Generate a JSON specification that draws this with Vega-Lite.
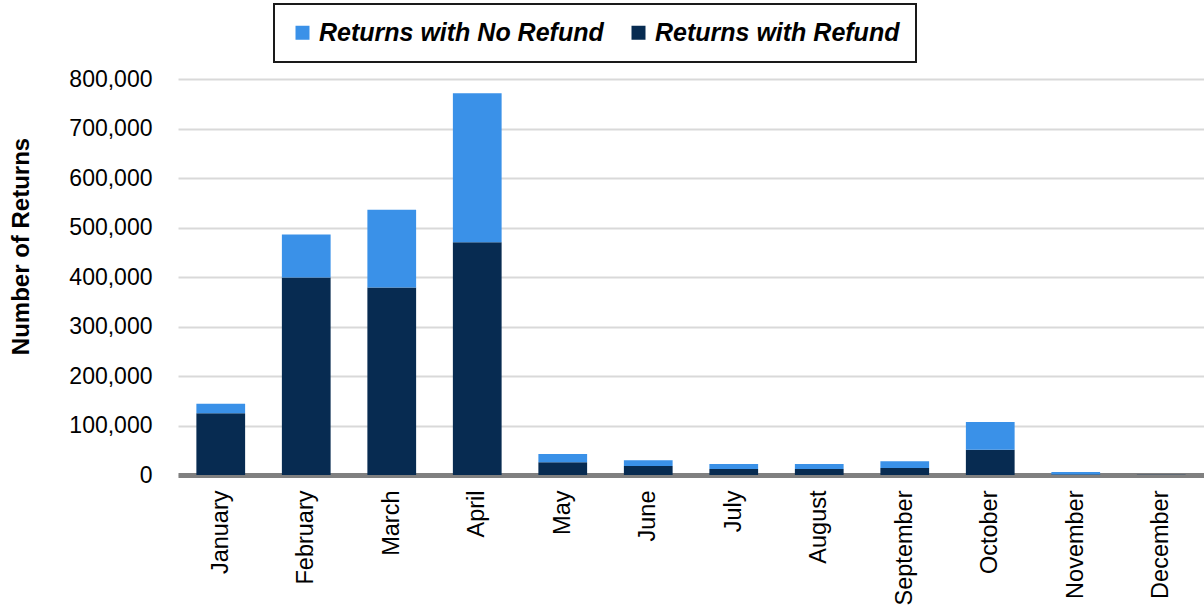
{
  "$schema": "https://vega.github.io/schema/vega-lite/v6.json",
  "autosize": {"type": "none"},
  "width": 1026,
  "height": 396,
  "padding": {"left": 178, "top": 79, "right": 0, "bottom": 136},
  "background": "white",
  "config": {
    "view": {"stroke": null},
    "font": "Liberation Sans"
  },
  "data": {
    "values": [
      {"month": "January", "series": "Returns with Refund", "value": 125000},
      {"month": "January", "series": "Returns with No Refund", "value": 19000},
      {"month": "February", "series": "Returns with Refund", "value": 399000},
      {"month": "February", "series": "Returns with No Refund", "value": 87000},
      {"month": "March", "series": "Returns with Refund", "value": 379000},
      {"month": "March", "series": "Returns with No Refund", "value": 157000},
      {"month": "April", "series": "Returns with Refund", "value": 470000},
      {"month": "April", "series": "Returns with No Refund", "value": 301000},
      {"month": "May", "series": "Returns with Refund", "value": 26000},
      {"month": "May", "series": "Returns with No Refund", "value": 16500},
      {"month": "June", "series": "Returns with Refund", "value": 18000},
      {"month": "June", "series": "Returns with No Refund", "value": 12000},
      {"month": "July", "series": "Returns with Refund", "value": 12000},
      {"month": "July", "series": "Returns with No Refund", "value": 10000},
      {"month": "August", "series": "Returns with Refund", "value": 12000},
      {"month": "August", "series": "Returns with No Refund", "value": 10000},
      {"month": "September", "series": "Returns with Refund", "value": 14000},
      {"month": "September", "series": "Returns with No Refund", "value": 14000},
      {"month": "October", "series": "Returns with Refund", "value": 51000},
      {"month": "October", "series": "Returns with No Refund", "value": 56000},
      {"month": "November", "series": "Returns with Refund", "value": 1000},
      {"month": "November", "series": "Returns with No Refund", "value": 5000},
      {"month": "December", "series": "Returns with Refund", "value": 300},
      {"month": "December", "series": "Returns with No Refund", "value": 300}
    ]
  },
  "mark": {"type": "bar"},
  "encoding": {
    "x": {
      "field": "month",
      "type": "nominal",
      "sort": ["January","February","March","April","May","June","July","August","September","October","November","December"],
      "scale": {"paddingInner": 0.43, "paddingOuter": 0.215},
      "axis": {
        "title": null,
        "labelAngle": -90,
        "labelAlign": "right",
        "labelBaseline": "middle",
        "labelFontSize": 23.5,
        "labelColor": "#000000",
        "labelPadding": 15,
        "ticks": false,
        "domainColor": "#808080",
        "domainWidth": 5,
        "grid": false
      }
    },
    "y": {
      "field": "value",
      "type": "quantitative",
      "stack": "zero",
      "scale": {"domain": [0, 800000], "nice": false},
      "axis": {
        "title": "Number of Returns",
        "titleFontSize": 24,
        "titleFontWeight": "bold",
        "titleColor": "#000000",
        "titleX": -157,
        "titleY": 167,
        "titleAngle": -90,
        "titleAlign": "center",
        "titleBaseline": "middle",
        "values": [0,100000,200000,300000,400000,500000,600000,700000,800000],
        "format": ",d",
        "labelFontSize": 23,
        "labelColor": "#000000",
        "labelPadding": 26,
        "ticks": false,
        "domain": false,
        "grid": true,
        "gridColor": "#d9d9d9",
        "gridWidth": 2
      }
    },
    "color": {
      "field": "series",
      "type": "nominal",
      "scale": {
        "domain": ["Returns with No Refund", "Returns with Refund"],
        "range": ["#3a91e8", "#072b51"]
      },
      "legend": {
        "title": null,
        "orient": "none",
        "legendX": 96,
        "legendY": -75,
        "direction": "horizontal",
        "symbolType": "square",
        "symbolSize": 196,
        "symbolStrokeWidth": 0,
        "labelFontSize": 25,
        "labelFontWeight": "bold",
        "labelFontStyle": "italic",
        "labelColor": "#000000",
        "labelOffset": 4,
        "labelLimit": 400,
        "columnPadding": 22,
        "padding": 16,
        "strokeColor": "#1a1a1a",
        "fillColor": "#ffffff",
        "encode": {"legend": {"update": {"strokeWidth": {"value": 2}}}}
      }
    },
    "order": {"field": "series", "sort": "descending"}
  }
}
